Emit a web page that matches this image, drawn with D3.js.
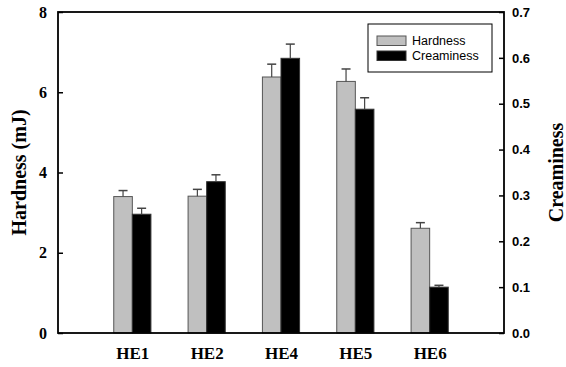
<!DOCTYPE html>
<html>
<head>
<meta charset="utf-8">
<script src="https://cdn.jsdelivr.net/npm/d3@7"></script>
<style>
  html, body { margin: 0; padding: 0; background: #fff; }
  svg { display: block; }
</style>
</head>
<body>
<svg id="chart" width="566" height="367"></svg>
<script>
// Samples and measured values
const categories = ["HE1", "HE2", "HE4", "HE5", "HE6"];
const hardness = [3.40, 3.41, 6.38, 6.27, 2.61];        // mJ
const hardnessErr = [0.15, 0.17, 0.32, 0.31, 0.14];
const creaminess = [0.259, 0.330, 0.599, 0.488, 0.100];
const creaminessErr = [0.013, 0.015, 0.031, 0.025, 0.004];
const leftTicks = [0, 2, 4, 6, 8];
const rightTicks = [0.0, 0.1, 0.2, 0.3, 0.4, 0.5, 0.6, 0.7];
const seriesNames = ["Hardness", "Creaminess"];

const svg = d3.select("#chart");
const L = 58, R = 504, T = 12, B = 333;

// Category positions sit at 1..n on a 0..n+1 linear axis
const x = d3.scaleLinear().domain([0, categories.length + 1]).range([L, R]);
const yL = d3.scaleLinear().domain([0, 8]).range([B, T]);
const yR = d3.scaleLinear().domain([0, 0.7]).range([B, T]);
const barW = (x(1) - x(0)) * 0.25;

const serif = "'Liberation Serif', 'Times New Roman', serif";
const sans = "'Liberation Sans', Arial, sans-serif";

// Bars
const g = svg.append("g");
categories.forEach((c, i) => {
  const cx = x(i + 1);
  // Hardness (left axis)
  g.append("rect")
    .attr("x", cx - barW).attr("y", yL(hardness[i]))
    .attr("width", barW).attr("height", yL(0) - yL(hardness[i]))
    .attr("fill", "#c0c0c0").attr("stroke", "#555").attr("stroke-width", 1);
  // Creaminess (right axis)
  g.append("rect")
    .attr("x", cx).attr("y", yR(creaminess[i]))
    .attr("width", barW).attr("height", yR(0) - yR(creaminess[i]))
    .attr("fill", "#000").attr("stroke", "#333").attr("stroke-width", 1);
});

// Upward error bars with caps
function errBar(xc, yTop, yCap) {
  g.append("line").attr("x1", xc).attr("x2", xc).attr("y1", yTop).attr("y2", yCap)
    .attr("stroke", "#444").attr("stroke-width", 1.2);
  g.append("line").attr("x1", xc - 4.5).attr("x2", xc + 4.5).attr("y1", yCap).attr("y2", yCap)
    .attr("stroke", "#444").attr("stroke-width", 1.5);
}
categories.forEach((c, i) => {
  const cx = x(i + 1);
  errBar(cx - barW / 2, yL(hardness[i]), yL(hardness[i] + hardnessErr[i]));
  errBar(cx + barW / 2, yR(creaminess[i]), yR(creaminess[i] + creaminessErr[i]));
});

// Axes
const axL = svg.append("g").attr("transform", `translate(${L},0)`)
  .call(d3.axisLeft(yL).tickValues(leftTicks).tickSizeInner(-5).tickSizeOuter(0).tickPadding(11).tickFormat(d3.format("d")));
axL.selectAll("text").attr("font-family", serif).attr("font-weight", "bold").attr("font-size", 16).attr("fill", "#000");

const axR = svg.append("g").attr("transform", `translate(${R},0)`)
  .call(d3.axisRight(yR).tickValues(rightTicks).tickSizeInner(-5).tickSizeOuter(0).tickPadding(8).tickFormat(d3.format(".1f")));
axR.selectAll("text").attr("font-family", sans).attr("font-weight", "bold").attr("font-size", 13).attr("fill", "#000");

[axL, axR].forEach(a => {
  a.select(".domain").remove();
  a.selectAll(".tick line").attr("stroke", "#000").attr("stroke-width", 1.5);
});

const axB = svg.append("g").attr("transform", `translate(0,${B})`)
  .call(d3.axisBottom(x).tickValues(d3.range(1, categories.length + 1)).tickSize(0).tickPadding(14)
    .tickFormat(d => categories[d - 1]));
axB.select(".domain").remove();
axB.selectAll("text").attr("font-family", serif).attr("font-weight", "bold").attr("font-size", 17).attr("fill", "#000");

// Frame
svg.append("rect").attr("x", L).attr("y", T).attr("width", R - L).attr("height", B - T)
  .attr("fill", "none").attr("stroke", "#000").attr("stroke-width", 1.8);

// Axis titles (rotated, baseline on the right-hand side)
svg.append("text").attr("transform", `translate(26,${(T + B) / 2}) rotate(-90)`)
  .attr("text-anchor", "middle")
  .attr("font-family", serif).attr("font-weight", "bold").attr("font-size", 20)
  .text("Hardness (mJ)");
svg.append("text").attr("transform", `translate(563,${(T + B) / 2}) rotate(-90)`)
  .attr("text-anchor", "middle")
  .attr("font-family", serif).attr("font-weight", "bold").attr("font-size", 20)
  .text("Creaminess");

// Legend
const lg = svg.append("g");
lg.append("rect").attr("x", 368).attr("y", 24).attr("width", 124).attr("height", 48)
  .attr("fill", "#fff").attr("stroke", "#000").attr("stroke-width", 1);
const swFill = ["#c0c0c0", "#000"];
const swStroke = ["#555", "#333"];
seriesNames.forEach((s, i) => {
  const yy = 36 + i * 15;
  lg.append("rect").attr("x", 377).attr("y", yy).attr("width", 29).attr("height", 9.5)
    .attr("fill", swFill[i]).attr("stroke", swStroke[i]).attr("stroke-width", 1);
  lg.append("text").attr("x", 412).attr("y", yy + 5).attr("dominant-baseline", "central")
    .attr("font-family", sans).attr("font-size", 12.5).attr("fill", "#000").text(s);
});
</script>
</body>
</html>
